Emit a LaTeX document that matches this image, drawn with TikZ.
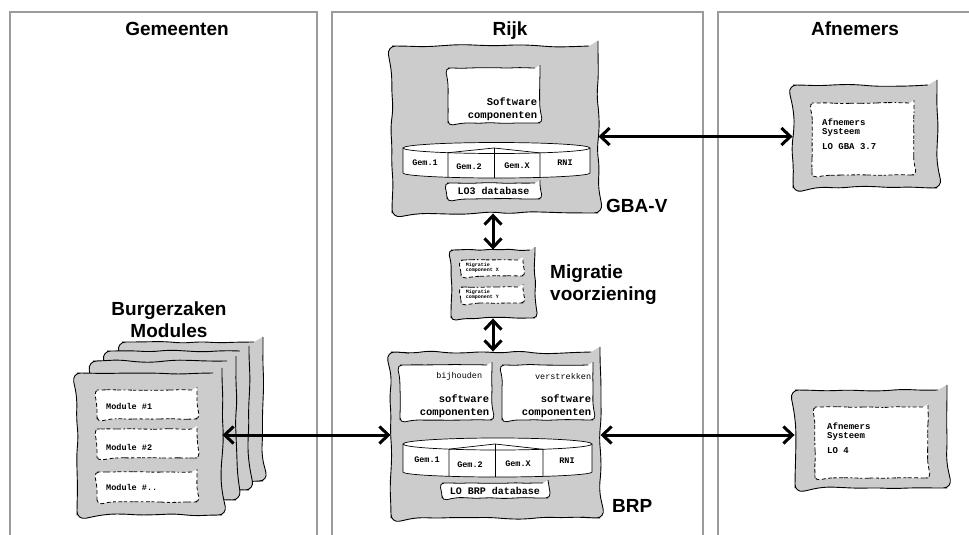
\documentclass[tikz,border=0pt]{standalone}
\usepackage{fontspec}
\setmainfont{Liberation Sans}
\setmonofont{Liberation Mono}
\usetikzlibrary{arrows.meta,decorations.pathmorphing,positioning}
\definecolor{boxgray}{RGB}{204,204,204}
\definecolor{framegray}{RGB}{155,155,155}
\newcommand{\titlefont}{\fontsize{19}{21.5}\selectfont\bfseries}
\newcommand{\swfont}{\fontsize{10.5}{12.5}\selectfont\ttfamily\bfseries}
\newcommand{\gemfont}{\fontsize{8.5}{9}\selectfont\ttfamily\bfseries}
\newcommand{\dbfont}{\fontsize{10}{11}\selectfont\ttfamily\bfseries}
\newcommand{\afnfont}{\fontsize{9}{8.5}\selectfont\ttfamily\bfseries}
\newcommand{\migfont}{\fontsize{5}{4.8}\selectfont\ttfamily\bfseries}
\newcommand{\thinfont}{\fontsize{8.5}{9}\selectfont\ttfamily}
\begin{document}
\begin{tikzpicture}[x=1pt,y=-1pt,
  every node/.style={inner sep=0pt},
  colframe/.style={draw=framegray,line width=1.1pt},
  blob/.style={draw,line width=0.9pt,fill=boxgray,decorate,
    decoration={random steps,segment length=18pt,amplitude=1.6pt},rounded corners=9pt},
  swbox/.style={draw,line width=0.8pt,fill=white,decorate,
    decoration={random steps,segment length=9pt,amplitude=0.5pt},rounded corners=5pt},
  dashbox/.style={swbox,dash pattern=on 4pt off 2.5pt},
  dbline/.style={line width=0.7pt},
  dblarrow/.style={line width=3pt,{Straight Barb[length=9pt,width=17pt]}-{Straight Barb[length=9pt,width=17pt]}},
  hdr/.style={font=\titlefont,anchor=base}]
\pgfmathsetseed{3}
\useasboundingbox (0,0) rectangle (969,535);
% column frames
\draw[colframe] (10,535) |- (317,12) -- (317,535);
\draw[colframe] (332,535) |- (703,12) -- (703,535);
\draw[colframe] (718,535) |- (969,12);
\node (hgem) [hdr] at (177,36) {Gemeenten};
\node (hrijk) [hdr] at (510,36) {Rijk};
\node (hafn) [hdr] at (855,36) {Afnemers};
% GBA-V
\node (gbav) [blob,minimum width=206pt,minimum height=167pt] at (495,129.5) {};
\node (gbasw) [swbox,minimum width=92pt,minimum height=55pt] at (494,95.5) {};
\node (gbaswtxt) [anchor=south east,align=right,font=\swfont] at ([shift={(-3,-3)}]gbasw.south east) {Software\\componenten};
\fill[white] (403,148) -- (403,173) arc[start angle=180,end angle=0,x radius=93.5,y radius=5] -- (590,148) -- cycle;
\draw[dbline] (403,148) -- (403,173) arc[start angle=180,end angle=0,x radius=93.5,y radius=5] -- (590,148);
\draw[dbline,fill=white] (496.5,148) ellipse[x radius=93.5,y radius=5.5];
\draw[dbline] (494,148) -- (448,152.7) -- (448,177.3);
\draw[dbline] (494,148) -- (494,178);
\draw[dbline] (494,148) -- (540,152.9) -- (540,177.4);
\node (gbagem1) [font=\gemfont] at (425,163) {Gem.1};
\node (gbagem2) [font=\gemfont] at (469,167) {Gem.2};
\node (gbagemx) [font=\gemfont] at (517,166) {Gem.X};
\node (gbarni) [font=\gemfont] at (565,163) {RNI};
\node (lo3db) [swbox,minimum width=93pt,minimum height=16pt,font=\dbfont] at (493.5,191) {LO3 database};
\node (gbalbl) [font=\titlefont,anchor=base west] at (606,212) {GBA-V};
% migratie
\node (migr) [blob,minimum width=84pt,minimum height=68pt,
  decoration={random steps,segment length=10pt,amplitude=1pt},rounded corners=5pt] at (493,284) {};
\node (migx) [dashbox,minimum width=62pt,minimum height=16pt] at (492,268) {};
\node (migy) [dashbox,minimum width=62pt,minimum height=16pt] at (492,295) {};
\node (migxtxt) [anchor=west,align=left,font=\migfont] at ([xshift=5pt]migx.west) {Migratie\\component X};
\node (migytxt) [anchor=west,align=left,font=\migfont] at ([xshift=5pt]migy.west) {Migratie\\component Y};
\node (miglbl) [font=\titlefont,align=left,anchor=base west] at (550,300) {Migratie\\voorziening};
% BRP
\node (brp) [blob,minimum width=209pt,minimum height=166pt] at (495.5,435) {};
\node (bijh) [swbox,minimum width=92pt,minimum height=55pt] at (446,392.5) {};
\node (verstr) [swbox,minimum width=91pt,minimum height=55pt] at (547.5,392.5) {};
\node (bijhtxt) [anchor=east,font=\thinfont] at ([shift={(-10,12)}]bijh.north east) {bijhouden};
\node (verstrtxt) [anchor=east,font=\thinfont] at ([shift={(-2,12)}]verstr.north east) {verstrekken};
\node (bijhsw) [anchor=south east,align=right,font=\swfont] at ([shift={(-3,-3)}]bijh.south east) {software\\componenten};
\node (verstrsw) [anchor=south east,align=right,font=\swfont] at ([shift={(-2,-3)}]verstr.south east) {software\\componenten};
\fill[white] (403,444) -- (403,472) arc[start angle=180,end angle=0,x radius=94.5,y radius=5] -- (592,444) -- cycle;
\draw[dbline] (403,444) -- (403,472) arc[start angle=180,end angle=0,x radius=94.5,y radius=5] -- (592,444);
\draw[dbline,fill=white] (497.5,444) ellipse[x radius=94.5,y radius=6];
\draw[dbline] (495,444) -- (449,449.1) -- (449,476.3);
\draw[dbline] (495,444) -- (495,477);
\draw[dbline] (495,444) -- (543,449.3) -- (543,476.4);
\node (brpgem1) [font=\gemfont] at (427,460) {Gem.1};
\node (brpgem2) [font=\gemfont] at (470,465) {Gem.2};
\node (brpgemx) [font=\gemfont] at (518,464) {Gem.X};
\node (brprni) [font=\gemfont] at (567,461) {RNI};
\node (brpdb) [swbox,minimum width=106pt,minimum height=15pt,font=\dbfont] at (495,490.5) {LO BRP database};
\node (brplbl) [font=\titlefont,anchor=base west] at (612,512) {BRP};
% burgerzaken modules
\node (bzm4) [blob,minimum width=141pt,minimum height=139pt] at (192.5,411.5) {};
\node (bzm3) [blob,minimum width=142pt,minimum height=139pt] at (178,420.5) {};
\node (bzm2) [blob,minimum width=143pt,minimum height=139pt] at (164.5,430.5) {};
\node (bzm1) [blob,minimum width=145pt,minimum height=142pt] at (149.5,444) {};
\node (mod1) [dashbox,minimum width=100pt,minimum height=29pt] at (147,404.5) {};
\node (mod2) [dashbox,minimum width=100pt,minimum height=29pt] at (147,443.5) {};
\node (mod3) [dashbox,minimum width=100pt,minimum height=30pt] at (147,487) {};
\node (mod1txt) [anchor=west,font=\gemfont] at (106,406) {Module \#1};
\node (mod2txt) [anchor=west,font=\gemfont] at (106,447) {Module \#2};
\node (mod3txt) [anchor=west,font=\gemfont] at (106,487) {Module \#..};
\node (bzmlbl) [font=\titlefont,align=center,anchor=base] at (169,337) {Burgerzaken\\Modules};
% afnemers
\node (afn1) [blob,minimum width=144pt,minimum height=103pt] at (865,136.5) {};
\node (afn1in) [dashbox,minimum width=102pt,minimum height=72pt] at (863,139) {};
\node (afn1txt) [anchor=base west,align=left,font=\afnfont] at (822,149) {Afnemers\\Systeem\\[6.5pt]LO GBA 3.7};
\node (afn2) [blob,minimum width=152pt,minimum height=98pt] at (871,439) {};
\node (afn2in) [dashbox,minimum width=113pt,minimum height=71pt] at (871.5,442.5) {};
\node (afn2txt) [anchor=base west,align=left,font=\afnfont] at (827,453) {Afnemers\\Systeem\\[6.5pt]LO 4};
% connections
\draw[dblarrow] (gbav.east |- afn1.west) -- (afn1.west);
\draw[dblarrow] (migr.north) -- (migr.north |- gbav.south);
\draw[dblarrow] (migr.south) -- (migr.south |- brp.north);
\draw[dblarrow] (bzm1.east |- brp.west) -- (brp.west);
\draw[dblarrow] (brp.east) -- (brp.east -| afn2.west);
\end{tikzpicture}
\end{document}
